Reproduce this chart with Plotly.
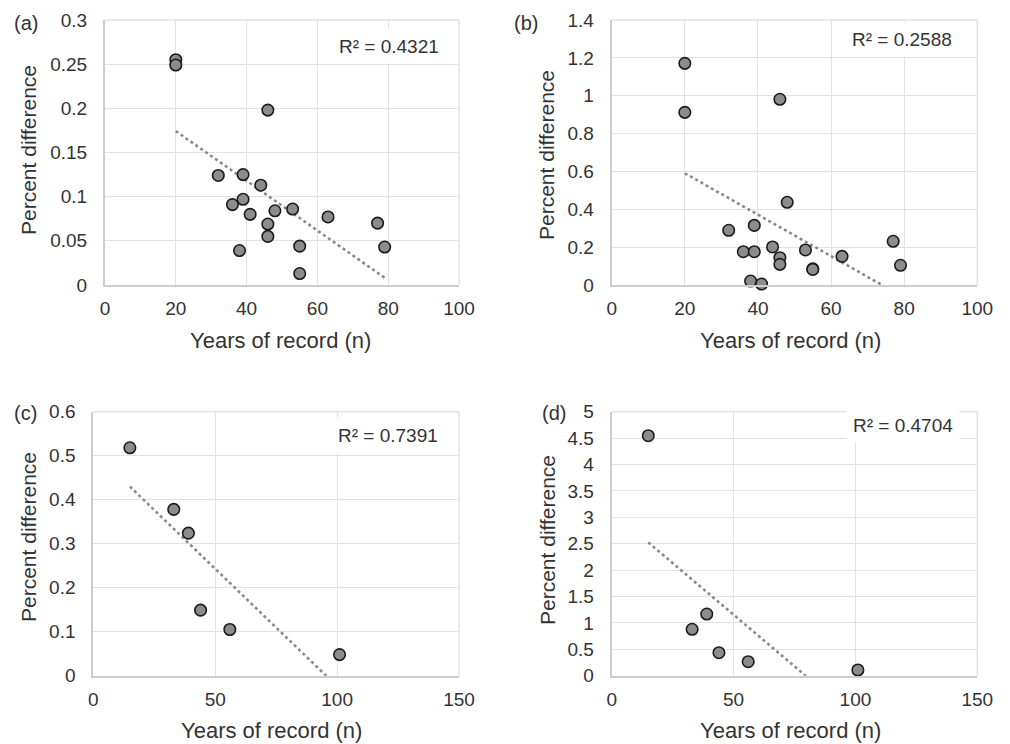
import numpy as np
import plotly.graph_objects as go

# ---------------- data ----------------
a_years = [20, 20, 46, 32, 39, 44, 36, 39, 41, 48, 53, 63, 77, 46, 46, 55, 79, 38, 55]
a_diff = [0.255, 0.249, 0.198, 0.124, 0.125, 0.113, 0.091, 0.097, 0.080, 0.084, 0.086,
          0.077, 0.070, 0.069, 0.055, 0.044, 0.043, 0.039, 0.013]
a_r2 = "R² = 0.4321"

b_years = [20, 20, 46, 48, 32, 39, 36, 39, 44, 46, 46, 53, 55, 55, 63, 77, 79, 38, 41]
b_diff = [1.171, 0.912, 0.981, 0.437, 0.289, 0.315, 0.176, 0.176, 0.201, 0.144, 0.109,
          0.185, 0.085, 0.082, 0.151, 0.231, 0.104, 0.021, 0.005]
b_r2 = "R² = 0.2588"

c_years = [15, 33, 39, 44, 56, 101]
c_diff = [0.518, 0.378, 0.324, 0.149, 0.105, 0.048]
c_r2 = "R² = 0.7391"

d_years = [15, 33, 39, 44, 56, 101]
d_diff = [4.545, 0.879, 1.168, 0.436, 0.265, 0.108]
d_r2 = "R² = 0.4704"

panel_labels = ["(a)", "(b)", "(c)", "(d)"]
x_title = "Years of record (n)"
y_title = "Percent difference"

# ---------------- layout helpers ----------------
# page body has an 8px margin; the figure is sized so it ends at the window edge
OFF = 8
W, H = 1010 - OFF, 744 - OFF
def px(x):
    return (x - OFF) / W
def py(y):
    return 1 - (y - OFF) / H

FONT = "Liberation Sans, Arial, Helvetica, sans-serif"
TXT = "#333333"
GRID = "#e2e2e2"
AXL = "#cdcdcd"

fig = go.Figure()

panels = [
    dict(x=a_years, y=a_diff, r2=a_r2, xr=[0, 100], xd=20, yr=[0, 0.3], yd=0.05,
         box=(105, 459, 20, 285), r2pos=(389, 46.5), lab=(25.5, 23), xt=(280, 340), yt=(28, 150)),
    dict(x=b_years, y=b_diff, r2=b_r2, xr=[0, 100], xd=20, yr=[0, 1.4], yd=0.2,
         box=(611.7, 977.3, 20, 285), r2pos=(902, 39.5), lab=(525.5, 23), xt=(790, 340), yt=(547, 155)),
    dict(x=c_years, y=c_diff, r2=c_r2, xr=[0, 150], xd=50, yr=[0, 0.6], yd=0.1,
         box=(93.3, 459, 411.7, 675.7), r2pos=(388, 435), lab=(25.5, 413), xt=(271, 730), yt=(28, 537)),
    dict(x=d_years, y=d_diff, r2=d_r2, xr=[0, 150], xd=50, yr=[0, 5], yd=0.5,
         box=(611.7, 977.3, 411.7, 675.7), r2pos=(903, 425), lab=(554, 413), xt=(790, 730), yt=(547, 540)),
]

annotations = []
for i, p in enumerate(panels, start=1):
    xa = "x" if i == 1 else f"x{i}"
    ya = "y" if i == 1 else f"y{i}"
    xs = np.array(p["x"], dtype=float)
    ys = np.array(p["y"], dtype=float)
    k, b = np.polyfit(xs, ys, 1)
    tx = np.array([xs.min(), xs.max()])
    fig.add_trace(go.Scatter(x=tx, y=k * tx + b, mode="lines", xaxis=xa, yaxis=ya,
                             line=dict(color="#8a8a8a", width=2.6, dash="dot"),
                             showlegend=False, hoverinfo="skip"))
    fig.add_trace(go.Scatter(x=p["x"], y=p["y"], mode="markers", xaxis=xa, yaxis=ya,
                             marker=dict(size=11.5, color="#8c8c8c",
                                         line=dict(color="#1a1a1a", width=1.6)),
                             showlegend=False, cliponaxis=False))
    x0, x1, y0, y1 = p["box"]
    axkey = "xaxis" if i == 1 else f"xaxis{i}"
    aykey = "yaxis" if i == 1 else f"yaxis{i}"
    fig.update_layout(**{
        axkey: dict(domain=[px(x0), px(x1)], anchor=ya, range=p["xr"], dtick=p["xd"],
                    tick0=0, showgrid=True, gridcolor=GRID, gridwidth=1.2,
                    showline=True, linecolor=AXL, linewidth=2, zeroline=False,
                    ticks="outside", ticklen=5, tickcolor="rgba(0,0,0,0)",
                    automargin=False,
                    tickfont=dict(family=FONT, size=19, color=TXT), fixedrange=True),
        aykey: dict(domain=[py(y1), py(y0)], anchor=xa, range=p["yr"], dtick=p["yd"],
                    tick0=0, showgrid=True, gridcolor=GRID, gridwidth=1.2,
                    showline=True, linecolor=AXL, linewidth=2, zeroline=False,
                    ticks="outside", ticklen=12, tickcolor="rgba(0,0,0,0)",
                    automargin=False,
                    tickfont=dict(family=FONT, size=19, color=TXT), fixedrange=True),
    })
    # top / right frame lines (gridline coloured)
    fig.add_shape(type="line", xref="paper", yref="paper", x0=px(x0), x1=px(x1),
                  y0=py(y0), y1=py(y0), line=dict(color=GRID, width=1.5), layer="below")
    fig.add_shape(type="line", xref="paper", yref="paper", x0=px(x1), x1=px(x1),
                  y0=py(y0), y1=py(y1), line=dict(color=GRID, width=1.5), layer="below")

    annotations.append(dict(text=p["r2"], xref="paper", yref="paper",
                            x=px(p["r2pos"][0]), y=py(p["r2pos"][1]),
                            xanchor="center", yanchor="middle", showarrow=False,
                            bgcolor="white", borderpad=6,
                            font=dict(family=FONT, size=19, color=TXT)))
    annotations.append(dict(text=panel_labels[i - 1], xref="paper", yref="paper",
                            x=px(p["lab"][0]), y=py(p["lab"][1]),
                            xanchor="center", yanchor="middle", showarrow=False,
                            font=dict(family=FONT, size=20, color=TXT)))
    annotations.append(dict(text=x_title, xref="paper", yref="paper",
                            x=px(p["xt"][0]), y=py(p["xt"][1]),
                            xanchor="center", yanchor="middle", showarrow=False,
                            font=dict(family=FONT, size=22, color=TXT)))
    annotations.append(dict(text=y_title, xref="paper", yref="paper",
                            x=px(p["yt"][0]), y=py(p["yt"][1]), textangle=-90,
                            xanchor="center", yanchor="middle", showarrow=False,
                            font=dict(family=FONT, size=21, color=TXT)))

fig.update_layout(width=W, height=H, margin=dict(l=0, r=0, t=0, b=0, autoexpand=False),
                  paper_bgcolor="white", plot_bgcolor="white",
                  annotations=annotations, showlegend=False)

fig.write_html("out.html", config={"displayModeBar": False})
